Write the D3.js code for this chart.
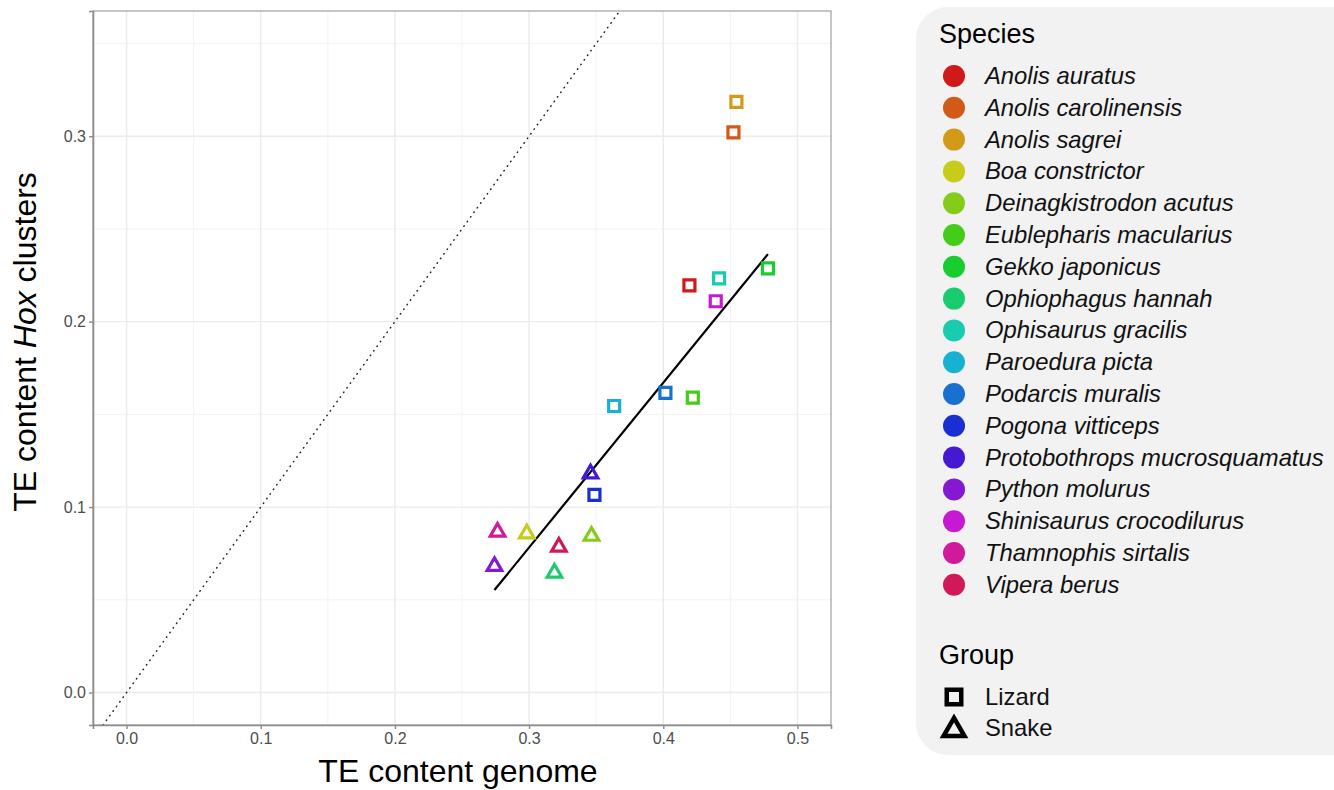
<!DOCTYPE html>
<html>
<head>
<meta charset="utf-8">
<script src="https://cdn.jsdelivr.net/npm/d3@7"></script>
<style>
  body { margin: 0; background: #fff; }
  svg text { font-family: "Liberation Sans", Arial, Helvetica, sans-serif; }
</style>
</head>
<body>
<svg id="chart" width="1334" height="790"></svg>
<script>
// Species, group and values
const species = [
  'Anolis auratus', 'Anolis carolinensis', 'Anolis sagrei', 'Boa constrictor',
  'Deinagkistrodon acutus', 'Eublepharis macularius', 'Gekko japonicus',
  'Ophiophagus hannah', 'Ophisaurus gracilis', 'Paroedura picta',
  'Podarcis muralis', 'Pogona vitticeps', 'Protobothrops mucrosquamatus',
  'Python molurus', 'Shinisaurus crocodilurus', 'Thamnophis sirtalis', 'Vipera berus'
];
const groups = ['Lizard', 'Lizard', 'Lizard', 'Snake', 'Snake', 'Lizard', 'Lizard',
  'Snake', 'Lizard', 'Lizard', 'Lizard', 'Lizard', 'Snake', 'Snake', 'Lizard', 'Snake', 'Snake'];
const teGenome = [0.4195, 0.4523, 0.4545, 0.2983, 0.3465, 0.4220, 0.4780, 0.3189, 0.4416,
  0.3634, 0.4016, 0.3487, 0.3458, 0.2742, 0.4391, 0.2765, 0.3222];
const teHox = [0.2195, 0.3020, 0.3185, 0.0857, 0.0844, 0.1590, 0.2287, 0.0645, 0.2233,
  0.1545, 0.1616, 0.1066, 0.1180, 0.0681, 0.2110, 0.0866, 0.0785];

// fitted regression line (end points)
const fitX = [0.2742, 0.4780];
const fitY = [0.0553, 0.2364];

const xTicks = [0, 0.1, 0.2, 0.3, 0.4, 0.5];
const yTicks = [0, 0.1, 0.2, 0.3];
const xMinor = [0.05, 0.15, 0.25, 0.35, 0.45];
const yMinor = [0.05, 0.15, 0.25, 0.35];

const speciesColors = ['#D11919', '#D15A19', '#D19B19', '#C6CC19', '#85CC19', '#44CC19',
  '#19CC2F', '#19CC70', '#19CCB0', '#19B1D1', '#1970D1', '#192FD1', '#4419D1', '#8519D1',
  '#C619D1', '#D1199B', '#D1195A'];

const svg = d3.select('#chart');

// panel area
const panel = { left: 93, top: 11, right: 831, bottom: 725 };

const x = d3.scaleLinear().domain([-0.025, 0.525]).range([panel.left, panel.right]);
const y = d3.scaleLinear().domain([-0.0175, 0.3675]).range([panel.bottom, panel.top]);
const color = d3.scaleOrdinal().domain(species).range(speciesColors);

svg.append('defs').append('clipPath').attr('id', 'clip')
  .append('rect')
  .attr('x', panel.left).attr('y', panel.top)
  .attr('width', panel.right - panel.left).attr('height', panel.bottom - panel.top);

const grid = svg.append('g');

// minor grid
grid.selectAll('.xminor').data(xMinor).enter().append('line')
  .attr('x1', d => x(d)).attr('x2', d => x(d))
  .attr('y1', panel.top).attr('y2', panel.bottom)
  .attr('stroke', '#f3f3f3').attr('stroke-width', 1);
grid.selectAll('.yminor').data(yMinor).enter().append('line')
  .attr('x1', panel.left).attr('x2', panel.right)
  .attr('y1', d => y(d)).attr('y2', d => y(d))
  .attr('stroke', '#f3f3f3').attr('stroke-width', 1);

// major grid
grid.selectAll('.xmajor').data(xTicks).enter().append('line')
  .attr('x1', d => x(d)).attr('x2', d => x(d))
  .attr('y1', panel.top).attr('y2', panel.bottom)
  .attr('stroke', '#ebebeb').attr('stroke-width', 1.4);
grid.selectAll('.ymajor').data(yTicks).enter().append('line')
  .attr('x1', panel.left).attr('x2', panel.right)
  .attr('y1', d => y(d)).attr('y2', d => y(d))
  .attr('stroke', '#ebebeb').attr('stroke-width', 1.4);

const plot = svg.append('g').attr('clip-path', 'url(#clip)');

// y = x reference line
plot.append('line')
  .attr('x1', x(-0.025)).attr('y1', y(-0.025))
  .attr('x2', x(0.4)).attr('y2', y(0.4))
  .attr('stroke', '#222').attr('stroke-width', 1.5)
  .attr('stroke-linecap', 'round')
  .attr('stroke-dasharray', '0.5,5.2');

// regression line
plot.append('line')
  .attr('x1', x(fitX[0])).attr('y1', y(fitY[0]))
  .attr('x2', x(fitX[1])).attr('y2', y(fitY[1]))
  .attr('stroke', '#000').attr('stroke-width', 2.2);

const points = species.map((s, i) => ({ species: s, group: groups[i], gx: teGenome[i], hx: teHox[i] }));

const shapeFor = g => g === 'Lizard'
  ? d3.symbol().type(d3.symbolSquare).size(121)()
  : d3.symbol().type(d3.symbolTriangle).size(92)();

plot.selectAll('.pt').data(points).enter().append('path')
  .attr('class', 'pt')
  .attr('d', d => shapeFor(d.group))
  .attr('transform', d => `translate(${x(d.gx)},${y(d.hx)})`)
  .attr('fill', 'none')
  .attr('stroke', d => color(d.species))
  .attr('stroke-width', 3.2);

// panel border and axes
svg.append('rect')
  .attr('x', panel.left).attr('y', panel.top)
  .attr('width', panel.right - panel.left).attr('height', panel.bottom - panel.top)
  .attr('fill', 'none').attr('stroke', '#8c8c8c').attr('stroke-width', 1);

const xAxis = svg.append('g')
  .attr('transform', `translate(0,${panel.bottom})`)
  .call(d3.axisBottom(x).tickValues(xTicks).tickFormat(d3.format('.1f')).tickSize(4).tickPadding(4));
const yAxis = svg.append('g')
  .attr('transform', `translate(${panel.left},0)`)
  .call(d3.axisLeft(y).tickValues(yTicks).tickFormat(d3.format('.1f')).tickSize(4).tickPadding(3));

[xAxis, yAxis].forEach(a => {
  a.attr('font-size', 16).attr('font-family', '"Liberation Sans", Arial, sans-serif');
  a.select('.domain').attr('stroke', '#8c8c8c').attr('stroke-width', 1.6);
  a.selectAll('.tick line').attr('stroke', '#8c8c8c').attr('stroke-width', 1.4);
  a.selectAll('.tick text').attr('fill', '#4d4d4d');
});

// axis titles
svg.append('text')
  .attr('x', (panel.left + panel.right) / 2 - 4).attr('y', 782)
  .attr('text-anchor', 'middle').style('font-size', '32px').attr('fill', '#000')
  .text('TE content genome');

const yTitle = svg.append('text')
  .attr('transform', 'translate(36,342) rotate(-90)')
  .attr('text-anchor', 'middle').style('font-size', '32px').attr('fill', '#000');
yTitle.append('tspan').text('TE content ');
yTitle.append('tspan').style('font-style', 'italic').text('Hox');
yTitle.append('tspan').text(' clusters');

// legend
const legend = svg.append('g');
legend.append('rect')
  .attr('x', 916).attr('y', 7).attr('width', 450).attr('height', 748)
  .attr('rx', 32).attr('fill', '#f2f2f2');

legend.append('text').attr('x', 939).attr('y', 43)
  .style('font-size', '27px').text('Species');

const rowStep = 31.8;
const items = legend.selectAll('.sp').data(species).enter().append('g')
  .attr('transform', (d, i) => `translate(954,${76 + i * rowStep})`);
items.append('circle').attr('r', 11).attr('fill', d => color(d));
items.append('text').attr('x', 31).attr('y', 8)
  .style('font-size', '23.8px').style('font-style', 'italic').attr('fill', '#111')
  .text(d => d);

legend.append('text').attr('x', 939).attr('y', 664)
  .style('font-size', '27px').text('Group');

const groupNames = ['Lizard', 'Snake'];
const gItems = legend.selectAll('.gr').data(groupNames).enter().append('g')
  .attr('transform', (d, i) => `translate(954,${697 + i * 31})`);
gItems.append('path')
  .attr('d', d => d === 'Lizard'
    ? d3.symbol().type(d3.symbolSquare).size(210)()
    : d3.symbol().type(d3.symbolTriangle).size(190)())
  .attr('transform', d => d === 'Lizard' ? null : 'translate(0,2)')
  .attr('fill', 'none').attr('stroke', '#000').attr('stroke-width', 4.5);
gItems.append('text').attr('x', 31).attr('y', 8)
  .style('font-size', '23.8px').attr('fill', '#111')
  .text(d => d);
</script>
</body>
</html>
